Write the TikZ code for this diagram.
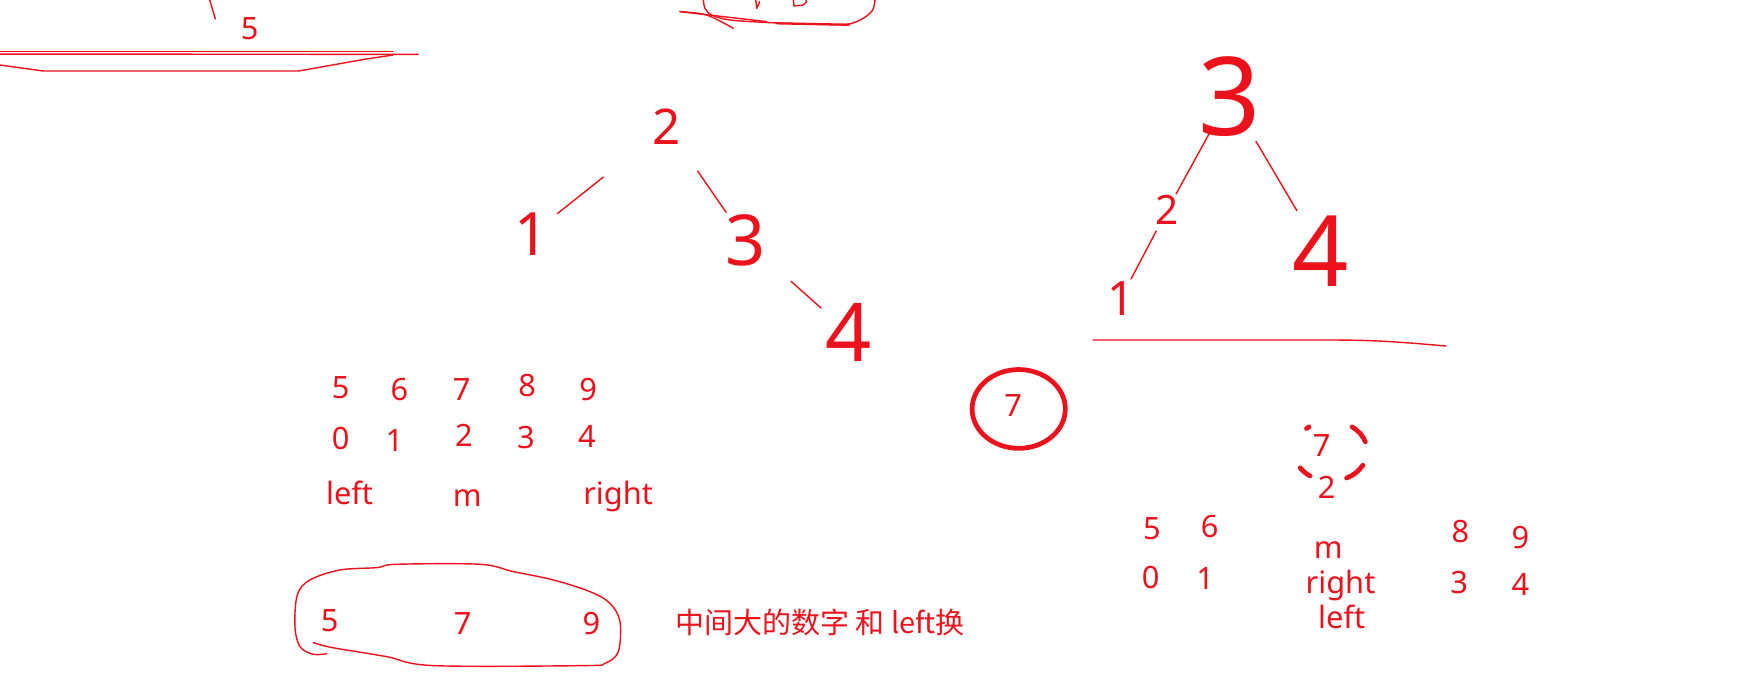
\documentclass[tikz,border=0pt]{standalone}
\usepackage{fontspec}
\setmainfont{Noto Sans}
\newfontfamily\cjk{Noto Sans CJK SC}
\definecolor{penred}{RGB}{236,18,28}
\usetikzlibrary{calc,positioning}

\begin{document}
\begin{tikzpicture}[x=0.2219mm, y=-0.2219mm,
  typed/.style={text=penred, font=\fontsize{17.5}{21}\selectfont, inner sep=0pt, anchor=base},
  hand/.style={text=penred, inner sep=0pt, font=\fontsize{#1}{#1}\selectfont},
  ink/.style={draw=penred, line width=0.8pt, line cap=round, line join=round},
  ring/.style={draw=penred, line width=2.7pt, line cap=round}
]
\fill[white] (0,0) rectangle (1568,618);
\useasboundingbox (0,0) rectangle (1568,618);

\draw[ink] (189,0) -- (194,17);
\node[typed] (topfive) at (225,36) {5};
\draw[ink] (0,46.6) -- (354,46.6);
\draw[ink] (0,48.7) -- (377,49);
\draw[ink] (0,58.6) -- (39,64) -- (269,64) -- (328,53.5) -- (354,49.6);

\draw[ink] plot[smooth] coordinates {(633.8,0) (635.3,7.5) (641.3,13.5) (657.8,18) (693.9,20.4) (729.9,21.6) (763,21.9) (777.9,16.5) (786.4,9) (788.5,0)};
\draw[ink] plot[smooth] coordinates {(612.7,10.5) (636.8,13.5) (660.8,25.5)};
\draw[ink] (612.7,10.5) -- (690.9,19.5);
\draw[ink, line width=1.3pt] (700,21) -- (765,22.3);
\draw[ink] (681,0) -- (682,7.5) -- (684.5,1.5);
\draw[ink] (714.9,0) -- (715.5,5.4) -- (723.9,4.5) -- (726.9,1.5) -- (726.3,0);

\node[hand=28] (l2) at (601,114) {2};
\node[hand=34] (l1) at (479,211) {1};
\node[hand=40] (l3) at (672,217) {3};
\node[hand=46] (l4) at (765,300) {4};
\draw[ink] ($(l2)!0.47!(l1)$) -- ($(l2)!0.81!(l1)$);
\draw[ink] ($(l2)!0.39!(l3)$) -- ($(l2)!0.75!(l3)$);
\draw[ink] ($(l3)!0.44!(l4)$) -- ($(l3)!0.73!(l4)$);

\node[hand=62] (r3) at (1108,87) {3};
\node[hand=23] (r2) at (1052,189) {2};
\node[hand=27] (r1) at (1010,269) {1};
\node[hand=56] (r4) at (1190,226) {4};
\draw[ink] ($(r3)!0.33!(r2)$) -- ($(r3)!0.86!(r2)$);
\draw[ink] ($(r2)!0.24!(r1)$) -- ($(r2)!0.78!(r1)$);
\draw[ink] ($(r3)!0.29!(r4)$) -- ($(r3)!0.74!(r4)$);
\draw[ink] (985,306.4) -- (1199,306.4) to[out=0, in=175] (1303,311.8);

\node[typed] (v5) at (307,359) {5};
\node[typed] (v6) at (360,360.5) {6};
\node[typed] (v7) at (416,360.5) {7};
\node[typed] (v8) at (475,357.5) {8};
\node[typed] (v9) at (530,360.5) {9};
\node[typed] (i0) at (307,405) {0};
\node[typed] (i1) at (355.5,407) {1};
\node[typed] (i2) at (418,402) {2};
\node[typed] (i3) at (474,404) {3};
\node[typed] (i4) at (529,403) {4};
\node[typed] (lleft) at (315,455) {left};
\node[typed] (lm) at (421,456) {m};
\node[typed] (lright) at (557,455) {right};

\node[typed] (s5) at (297,569) {5};
\node[typed] (s7) at (417,572) {7};
\node[typed] (s9) at (533,572) {9};
\draw[ink] plot[smooth, tension=0.55] coordinates {(294.4,589) (282.3,589.6) (270.3,582.7) (265.8,564.7) (267.9,536.1) (279.3,522.6) (306.4,513.6) (339.4,511.5) (357.4,508.5) (432.5,508.5) (462.6,515.1) (498.6,522.6) (531.6,533.1) (549.7,543.7) (558.7,560.2) (557.2,587.2) (545.2,597.7) (525.6,599.8) (390.5,599.8) (348.4,591.7) (306.4,584.8) (291.3,581.8) (282.3,579.1)};
\node[typed, anchor=base west, font=\cjk\fontsize{16.5}{20}\selectfont] (note) at (608,570.5) {中间大的数字 和 left换};

\node[typed] (pick) at (913,375.4) {7};
\draw[ring] (918,368.5) ellipse [x radius=42, y radius=35.5];

\node[typed] (d7) at (1191,411) {7};
\node[typed] (d2) at (1195.5,449) {2};
\coordinate (dc) at (1199,406.5);
\draw[ring] (dc) ++(-54:33 and 27) arc [start angle=-54, end angle=-18, x radius=33, y radius=27];
\draw[ring] (dc) ++(28:33 and 27) arc [start angle=28, end angle=64, x radius=33, y radius=27];
\draw[ring] (dc) ++(124:33 and 27) arc [start angle=124, end angle=146, x radius=33, y radius=27];
\draw[ring] (dc) ++(-126:33 and 27) arc [start angle=-126, end angle=-131, x radius=33, y radius=27];

\node[typed] (w5) at (1038,486) {5};
\node[typed] (w6) at (1090,484) {6};
\node[typed] (w8) at (1316,489) {8};
\node[typed] (w9) at (1370,494) {9};
\node[typed] (j0) at (1037,530) {0};
\node[typed] (j1) at (1086,531) {1};
\node[typed] (j3) at (1315,534.6) {3};
\node[typed] (j4) at (1370,537) {4};
\node[typed] (rm) at (1197,503) {m};
\node[typed] (rright) at (1208,534.6) {right};
\node[typed] (rleft) at (1209,566) {left};
\end{tikzpicture}
\end{document}
